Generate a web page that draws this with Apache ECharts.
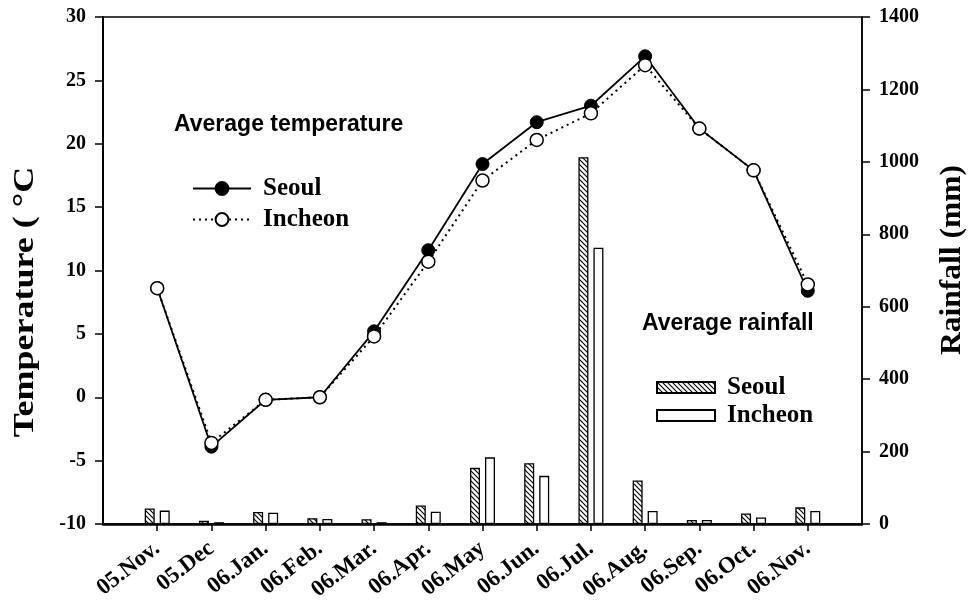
<!DOCTYPE html>
<html>
<head>
<meta charset="utf-8">
<script src="https://cdn.jsdelivr.net/npm/echarts@6/dist/echarts.min.js"></script>
<style>html,body{margin:0;padding:0;background:#fff}#c{width:971px;height:604px}</style>
</head>
<body>
<div id="c"></div>
<script>
const categories = ['', '05.Nov.', '05.Dec', '06.Jan.', '06.Feb.', '06.Mar.', '06.Apr.', '06.May', '06.Jun.', '06.Jul.', '06.Aug.', '06.Sep.', '06.Oct.', '06.Nov.', ''];
const tempSeoul   = [null, 8.6, -3.9, -0.2, 0.0, 5.2, 11.6, 18.4, 21.7, 23.0, 26.9, 21.2, 17.9, 8.4, null];
const tempIncheon = [null, 8.6, -3.6, -0.2, 0.0, 4.8, 10.7, 17.1, 20.3, 22.4, 26.2, 21.2, 17.9, 8.9, null];
const rainSeoul   = [null, 43, 9, 33, 16, 13, 51, 155, 168, 1013, 120, 11, 29, 46, null];
const rainIncheon = [null, 37, 5, 31, 14, 5, 34, 184, 133, 763, 36, 11, 18, 36, null];
const tempTicks = { min: -10, max: 30, interval: 5 };
const rainTicks = { min: 0, max: 1400, interval: 200 };

const serif = 'Liberation Serif';
const sans = 'Liberation Sans';

// hatch pattern
const pc = document.createElement('canvas');
pc.width = 5; pc.height = 5;
const g = pc.getContext('2d');
g.fillStyle = '#fff'; g.fillRect(0, 0, 5, 5);
g.strokeStyle = '#000'; g.lineWidth = 1.1;
g.beginPath();
g.moveTo(-1, -1); g.lineTo(6, 6);
g.moveTo(-1, 4); g.lineTo(1, 6);
g.moveTo(4, -1); g.lineTo(6, 1);
g.stroke();
const hatch = { image: pc, repeat: 'repeat' };

const chart = echarts.init(document.getElementById('c'), null, { renderer: 'canvas' });
const tickStyle = { fontFamily: serif, fontWeight: 'bold', fontSize: 20, color: '#000' };
const legendText = { fontFamily: serif, fontWeight: 'bold', fontSize: 25, color: '#000', lineHeight: 27, padding: [0, 0, 0, 7] };
const titleStyle = { fontFamily: sans, fontWeight: 'bold', fontSize: 23, color: '#000' };

chart.setOption({
  animation: false,
  backgroundColor: '#fff',
  grid: { left: 103, right: 109, top: 17, bottom: 80, containLabel: false, show: true, borderColor: '#000', borderWidth: 1.5, backgroundColor: 'transparent' },
  title: [
    { text: 'Average temperature', left: 174, top: 113, padding: 0, textStyle: titleStyle },
    { text: 'Average rainfall', left: 642, top: 312, padding: 0, textStyle: titleStyle }
  ],
  legend: [
    {
      data: ['Seoul', 'Incheon'], orient: 'vertical', left: 192, top: 175, padding: 0,
      itemWidth: 58, itemHeight: 16, itemGap: 4,
      textStyle: legendText, selectedMode: false
    },
    {
      data: ['Seoul ', 'Incheon '], orient: 'vertical', left: 656, top: 374, padding: 0,
      itemWidth: 58, itemHeight: 11, itemGap: 1, icon: 'rect',
      textStyle: legendText, selectedMode: false,
      formatter: n => n.trim()
    }
  ],
  graphic: [
    { type: 'text', rotation: Math.PI / 2, scaleX: 1.2, x: 25, y: 302, style: { text: 'Temperature ( °C', font: 'bold 30px "Liberation Serif"', fill: '#000', textAlign: 'center', textVerticalAlign: 'middle' } },
    { type: 'text', rotation: Math.PI / 2, scaleX: 1.05, x: 952, y: 260, style: { text: 'Rainfall (mm)', font: 'bold 30px "Liberation Serif"', fill: '#000', textAlign: 'center', textVerticalAlign: 'middle' } }
  ],
  xAxis: {
    type: 'category', data: categories, boundaryGap: false,
    axisLine: { onZero: false, lineStyle: { color: '#000', width: 2.5 } },
    axisTick: { length: 7, lineStyle: { color: '#000', width: 1.5 }, interval: i => i > 0 && i < categories.length - 1 },
    axisLabel: { ...tickStyle, fontSize: 23, rotate: 38, margin: 22, interval: 0 },
    splitLine: { show: false }
  },
  yAxis: [
    {
      type: 'value', ...tempTicks,
      axisLine: { show: true, lineStyle: { color: '#000', width: 2 } },
      axisTick: { show: true, length: 8, lineStyle: { color: '#000', width: 1.5 } },
      axisLabel: { ...tickStyle, margin: 17 },
      splitLine: { show: false }
    },
    {
      type: 'value', ...rainTicks, position: 'right',
      axisLine: { show: true, lineStyle: { color: '#000', width: 1.5 } },
      axisTick: { show: true, length: 8, lineStyle: { color: '#000', width: 1.5 } },
      axisLabel: { ...tickStyle, margin: 17, formatter: v => String(v) },
      splitLine: { show: false }
    }
  ],
  series: [
    {
      name: 'Seoul ', type: 'bar', yAxisIndex: 1, data: rainSeoul,
      barWidth: 10, barGap: '50%',
      itemStyle: { color: hatch, borderColor: '#000', borderWidth: 1.3 }
    },
    {
      name: 'Incheon ', type: 'bar', yAxisIndex: 1, data: rainIncheon,
      barWidth: 10, barGap: '50%',
      itemStyle: { color: '#fff', borderColor: '#000', borderWidth: 1.3 }
    },
    {
      name: 'Seoul', type: 'line', yAxisIndex: 0, data: tempSeoul,
      symbol: 'circle', symbolSize: 13, z: 5,
      lineStyle: { color: '#000', width: 1.8 },
      itemStyle: { color: '#000', borderColor: '#000', borderWidth: 1 }
    },
    {
      name: 'Incheon', type: 'line', yAxisIndex: 0, data: tempIncheon,
      symbol: 'circle', symbolSize: 13, z: 6,
      lineStyle: { color: '#000', width: 2, type: [2, 4] },
      itemStyle: { color: '#fff', borderColor: '#000', borderWidth: 1.5 }
    }
  ]
});
</script>
</body>
</html>
